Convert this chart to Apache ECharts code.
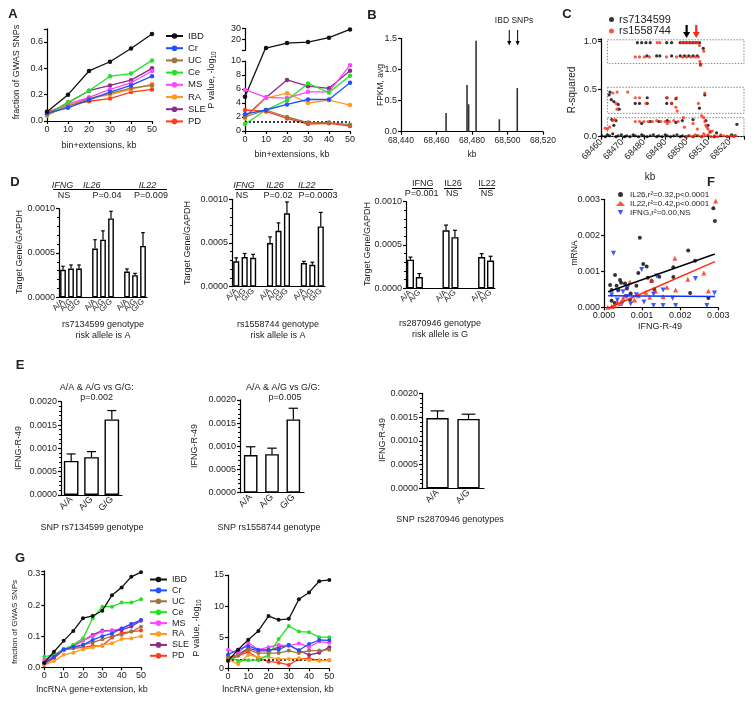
<!DOCTYPE html>
<html><head><meta charset="utf-8">
<script src="https://cdn.jsdelivr.net/npm/echarts@6/dist/echarts.min.js"></script>
<style>html,body{margin:0;padding:0;background:#fff}#c{width:754px;height:704px}</style>
</head><body><div id="c"></div>
<script>
// ================= DATA =================
// Panel A (left): fraction of GWAS SNPs
const aBins = [0, 10, 20, 30, 40, 50];
const diseases = ['IBD','Cr','UC','Ce','MS','RA','SLE','PD'];
const aFracIBD = [0.07,0.20,0.38,0.45,0.55,0.66];
const aFracCr  = [0.06,0.10,0.16,0.22,0.27,0.34];
const aFracUC  = [0.05,0.11,0.17,0.21,0.25,0.27];
const aFracCe  = [0.05,0.14,0.23,0.34,0.36,0.46];
const aFracMS  = [0.06,0.13,0.18,0.24,0.29,0.38];
const aFracRA  = [0.04,0.12,0.17,0.20,0.24,0.28];
const aFracSLE = [0.05,0.14,0.23,0.27,0.31,0.40];
const aFracPD  = [0.07,0.12,0.15,0.17,0.22,0.24];
// Panel A (right): P value, -log10
const aPvalIBD = [4.9, 12, 16.6, 17.5, 21.5, 29];
const aPvalCr  = [2.4, 3.0, 3.8, 4.5, 4.5, 6.9];
const aPvalUC  = [2.0, 3.0, 2.0, 1.2, 1.2, 0.9];
const aPvalCe  = [1.0, 3.0, 4.4, 6.8, 5.5, 7.9];
const aPvalMS  = [5.9, 4.8, 4.7, 5.6, 5.6, 9.4];
const aPvalRA  = [1.8, 4.7, 5.4, 4.0, 4.4, 3.7];
const aPvalSLE = [2.0, 4.8, 7.3, 6.4, 6.1, 8.6];
const aPvalPD  = [3.0, 2.8, 1.8, 1.0, 1.1, 0.7];
const pThreshold = 1.3;
// Panel B: FPKM
const fpkmKb  = [68465.4, 68477.2, 68478.1, 68482.3, 68495.4, 68505.5];
const fpkmAvg = [0.30, 0.75, 0.44, 1.46, 0.20, 0.70];
const ibdSnpKb = [68501, 68505.7];
// Panel C: R-squared
const r2Rs7134599 = [[68477,0.99],[68479,0.99],[68481,0.99],[68483,0.99],[68490.7,0.99],[68493,0.99],[68497,0.99],[68498.5,0.99],[68500,0.99],[68501.5,0.99],[68503,0.99],[68504.5,0.99],[68506,0.99],
 [68481.5,0.85],[68486,0.85],[68487.5,0.85],[68493,0.85],[68497,0.85],[68499,0.85],[68501,0.85],[68503,0.85],[68505,0.85],[68506.5,0.76],[68507.8,0.93],
 [68464.2,0.47],[68463.8,0.44],[68464.8,0.39],[68466,0.37],[68468,0.34],[68468.5,0.29],[68476,0.35],[68478,0.35],[68481.6,0.41],[68481.6,0.35],[68490.7,0.41],[68490.7,0.35],[68493,0.35],[68495,0.40],[68506,0.30],[68508.5,0.44],
 [68465,0.18],[68467,0.17],[68466,0.12],[68479,0.14],[68483,0.16],[68487,0.16],[68491,0.17],[68495,0.15],[68498,0.17],[68503,0.18],[68509,0.17],[68510,0.12],[68511,0.05],[68514,0.04],[68523.5,0.13],
 [68460.5,0.01],[68462,0.0],[68463,0.02],[68464,0.01],[68465.5,0.03],[68467,0.0],[68468,0.01],[68469.5,0.02],[68471,0.0],[68472,0.01],[68473.5,0.0],[68475,0.02],[68476,0.01],[68477.5,0.0],[68479,0.02],[68480,0.01],[68481.5,0.0],[68483,0.01],[68484.5,0.02],[68486,0.0],[68487,0.01],[68488.5,0.0],[68490,0.02],[68491,0.01],[68492.5,0.0],[68494,0.01],[68495.5,0.02],[68497,0.0],[68498,0.01],[68499.5,0.0],[68501,0.01],[68503,0.0],[68505,0.01],[68507,0.0],[68510,0.01],[68513,0.0],[68516,0.01],[68519,0.0],[68521,0.02],[68522.5,0.01]];
const r2Rs1558744 = [[68486.3,0.99],[68487.5,0.99],[68497.5,0.99],[68499,0.99],[68500.5,0.99],[68502,0.99],[68503.5,0.99],[68505,0.99],[68506,0.96],
 [68476,0.84],[68478,0.84],[68480.3,0.84],[68482.6,0.84],[68490.6,0.84],[68495.3,0.84],[68498,0.84],[68500,0.84],[68502,0.84],[68504,0.84],[68505.5,0.84],[68506.2,0.79],[68506.5,0.75],[68508,0.90],
 [68465.5,0.46],[68467.5,0.47],[68472.5,0.47],[68467,0.35],[68467.5,0.29],[68476,0.41],[68478,0.41],[68481,0.35],[68491,0.41],[68493,0.35],[68495.3,0.41],[68495,0.31],[68495.6,0.27],[68505.5,0.35],[68508.5,0.46],
 [68462,0.09],[68463,0.08],[68464,0.10],[68465.5,0.17],[68466.5,0.18],[68476,0.16],[68478,0.16],[68480,0.16],[68482,0.16],[68484,0.16],[68486,0.17],[68488,0.16],[68490,0.16],[68492,0.16],[68494,0.17],[68496,0.16],[68491,0.14],[68498.5,0.20],[68499,0.10],[68503,0.14],[68505,0.08],[68507,0.22],[68508,0.20],[68508.5,0.16],[68509,0.12],[68509.5,0.10],[68510,0.08],[68511,0.05],[68512,0.06],[68508,0.03],
 [68500,0.0],[68501.5,0.01],[68503,0.0],[68504,0.02],[68505.5,0.01],[68507,0.0],[68508.5,0.01],[68510,0.02],[68511.5,0.0],[68513,0.01],[68514.5,0.0],[68516,0.02],[68517.5,0.01],[68519,0.0],[68520.5,0.01],[68522,0.0],[68523,0.01]];
const ldBoxes = [[68463,1.02,68526.8,0.77],[68463,0.52,68526.8,0.246],[68463,0.2,68526.8,0.0]];
const snpArrowKb = [68500, 68504.5];
// Panel D: Target gene / GAPDH
const dCats3 = ['A/A','A/G','G/G','','A/A','A/G','G/G','','A/A','A/G','G/G'];
const d1Mean = [0.00031,0.000325,0.000325,null,0.00055,0.00065,0.00089,null,0.00029,0.00025,0.00058];
const d1Sem  = [0.00004,0.00004,0.00004,null,0.0001,0.0001,0.00008,null,0.00003,0.00002,0.00015];
const d2Mean = [0.00029,0.00034,0.00033,null,0.0005,0.00064,0.00084,null,0.00027,0.00025,0.00069];
const d2Sem  = [0.00004,0.00004,0.00004,null,0.00007,0.00009,0.00013,null,0.00002,0.00003,0.00016];
const dCats2 = ['A/A','A/G','','','A/A','A/G','','','A/A','A/G'];
const d3Mean = [0.00033,0.00013,null,null,0.00067,0.00059,null,null,0.00036,0.00032];
const d3Sem  = [0.00003,0.00004,null,null,0.00006,0.00008,null,null,0.00004,0.00005];
// Panel E: IFNG-R-49
const eCats3 = ['A/A','A/G','G/G'];
const e1Mean = [0.00073,0.00081,0.00162];
const e1Sem  = [0.00015,0.00012,0.00019];
const e2Mean = [0.00081,0.00083,0.00158];
const e2Sem  = [0.00018,0.00013,0.00024];
const eCats2 = ['A/A','A/G'];
const e3Mean = [0.00148,0.00146];
const e3Sem  = [0.00015,0.0001];
// Panel F: mRNA vs IFNG-R-49
const fIL26 = [[0.00094,0.00193],[0.00287,0.00275],[0.00291,0.0024],[0.00221,0.00158],[0.00239,0.00129],[0.00182,0.00111],[0.00182,0.00084],[0.00103,0.0012],[0.00112,0.00113],[0.00029,0.0009],[0.00042,0.00076],[0.00055,0.00066],[0.0002,0.00048],[0.00033,0.0006],[0.00038,0.00048],[0.0006,0.00052],[0.00085,0.0006],[0.0007,0.00038],[0.00115,0.00082],[0.0002,0.00018],[0.00028,0.00012],[0.00068,0.00022],[0.00125,0.00073],[0.00145,0.00085],[0.00226,0.0004],[0.00274,0.00026],[0.00132,0.0005],[0.00045,0.00068],[0.0009,0.00095],[0.00016,0.00062]];
const fIL22 = [[0.00293,0.00295],[0.00186,0.00136],[0.00125,0.00075],[0.00068,0.0007],[0.00165,0.00056],[0.0022,0.00078],[0.00262,0.00095],[0.00274,0.00045],[0.00188,0.00048],[0.00135,0.00045],[0.00042,0.0001],[0.00029,0.00004],[0.00055,0.00032],[0.0009,0.00032],[0.0011,0.00042],[0.0002,0.00002],[0.00035,0.00015],[0.0005,0.00025],[0.0008,0.0002],[0.0012,0.00028],[0.00155,0.0003],[0.0001,0.0]];
const fIFNG = [[0.00025,0.0015],[0.00099,0.00105],[0.00138,0.00087],[0.0024,0.0008],[0.00035,0.00047],[0.0005,0.00043],[0.0006,0.0003],[0.00085,0.00035],[0.0013,0.00037],[0.00155,0.00048],[0.00155,0.00005],[0.00188,0.00005],[0.0027,0.00005],[0.0029,0.0004],[0.00048,0.00011],[0.00035,0.0002],[0.0007,0.0001],[0.00105,0.00015],[0.0013,0.00005],[0.0002,0.00035],[0.00062,0.00055],[0.0018,0.00025]];
const fitIL26 = [[0.00011,0.00043],[0.00291,0.00148]];
const fitIL22 = [[0.00016,0.0],[0.00291,0.00127]];
const fitIFNG = [[0.00011,0.00032],[0.00291,0.0003]];
const fNames = ['IL26,r\u00b2=0.32,p<0.0001','IL22,r\u00b2=0.42,p<0.0001','IFNG,r\u00b2=0.00,NS'];
// Panel G (left): fraction of GWAS SNPs, lncRNA gene+extension
const gBins = [0,5,10,15,20,25,30,35,40,45,50];
const gFracIBD = [0.015,0.05,0.085,0.117,0.158,0.165,0.182,0.232,0.257,0.291,0.306];
const gFracCr  = [0.013,0.034,0.058,0.066,0.072,0.088,0.10,0.109,0.125,0.139,0.152];
const gFracUC  = [0.015,0.035,0.055,0.062,0.072,0.08,0.09,0.10,0.105,0.115,0.13];
const gFracCe  = [0.034,0.04,0.058,0.072,0.093,0.158,0.195,0.195,0.208,0.208,0.219];
const gFracMS  = [0.024,0.04,0.056,0.069,0.086,0.10,0.115,0.118,0.125,0.139,0.152];
const gFracRA  = [0.008,0.02,0.04,0.047,0.058,0.064,0.072,0.077,0.091,0.093,0.10];
const gFracSLE = [0.015,0.032,0.056,0.069,0.086,0.104,0.118,0.118,0.12,0.131,0.15];
const gFracPD  = [0.008,0.029,0.056,0.061,0.064,0.069,0.069,0.096,0.111,0.115,0.118];
// Panel G (right): P value
const gPvalIBD = [1.2,3.0,4.6,6.0,8.4,7.8,7.95,11.1,12.2,14.0,14.2];
const gPvalCr  = [2.2,3.0,3.6,2.95,3.0,3.0,3.75,2.9,3.9,4.55,4.5];
const gPvalUC  = [1.8,2.1,2.95,2.45,2.45,2.45,2.85,2.45,2.85,2.85,3.0];
const gPvalCe  = [1.9,1.2,1.3,1.3,2.15,4.7,6.8,5.9,5.8,5.0,5.0];
const gPvalMS  = [3.0,2.4,4.1,3.0,3.4,3.75,3.6,4.0,3.4,4.3,4.1];
const gPvalRA  = [1.4,0.7,2.15,1.8,1.8,1.5,1.5,1.6,1.3,1.25,1.25];
const gPvalSLE = [1.5,2.2,3.2,2.8,2.8,3.4,3.75,2.85,2.15,2.5,3.4];
const gPvalPD  = [1.2,2.0,2.65,1.6,1.1,0.9,0.55,1.5,1.6,1.25,1.3];

// ================= STYLE =================
const FONT = "'Liberation Sans', Arial, Helvetica, sans-serif";
const TXT = '#222';
const diseaseColors = ['#111111','#2050ff','#a3723e','#25e025','#ff45ff','#ff9b20','#8c2a8c','#ff3b1b'];

const grid = [], xAxis = [], yAxis = [], series = [], legend = [], graphic = [];
const axLine = {show:true, onZero:false, lineStyle:{color:'#000', width:1.2}};
const axTick = {show:true, length:3, lineStyle:{color:'#000', width:1.2}};
const lab = (o) => Object.assign({fontSize:9, color:TXT, fontFamily:FONT, margin:4}, o||{});
function addGrid(l,t,w,h){ grid.push({left:l, top:t, width:w, height:h}); return grid.length-1; }
function addX(o){ xAxis.push(Object.assign({axisLine:axLine, axisTick:axTick, splitLine:{show:false}}, o)); return xAxis.length-1; }
function addY(o){ yAxis.push(Object.assign({type:'value', axisLine:axLine, axisTick:axTick, splitLine:{show:false}}, o)); return yAxis.length-1; }
const fmtStep = (step, dec) => (v) => (Math.abs(v/step - Math.round(v/step)) < 1e-6 ? v.toFixed(dec) : '');
function txt(x,y,text,o){ graphic.push({type:'text', x:x, y:y, rotation:(o&&o.rot)||0, silent:true,
  style:Object.assign({text:text, fill:TXT, fontSize:9, fontFamily:FONT, align:'center', verticalAlign:'middle'}, (o&&o.style)||{})}); }

// ----- A left -----
const gA1 = addGrid(47, 28.8, 105, 92.2);
const xA1 = addX({gridIndex:gA1, type:'value', min:0, max:50, interval:10, axisLabel:lab()});
const yA1 = addY({gridIndex:gA1, min:0, max:0.7, interval:0.2, axisLabel:lab({formatter:fmtStep(0.2,1)})});
const aFrac = [aFracIBD,aFracCr,aFracUC,aFracCe,aFracMS,aFracRA,aFracSLE,aFracPD];
diseases.forEach((d,i)=>series.push({type:'line', name:d, xAxisIndex:xA1, yAxisIndex:yA1, color:diseaseColors[i],
  symbol:'circle', symbolSize:4.5, lineStyle:{width:1.3}, z:10-i, data:aBins.map((b,j)=>[b,aFrac[i][j]])}));
legend.push({data:diseases, orient:'vertical', left:160, top:26, itemWidth:17, itemHeight:7, itemGap:2.2,
  textStyle:{fontSize:9.5, color:TXT, fontFamily:FONT, lineHeight:9}, selectedMode:false});

// ----- A right (broken axis) -----
const gA2 = addGrid(245, 61, 105, 70);
const gA3 = addGrid(245, 28.3, 105, 22);
const xA2 = addX({gridIndex:gA2, type:'value', min:0, max:50, interval:10, axisLabel:lab()});
const yA2 = addY({gridIndex:gA2, min:0, max:10, interval:2, axisLabel:lab()});
const xA3 = addX({gridIndex:gA3, type:'value', min:0, max:50, interval:10, show:false});
const yA3 = addY({gridIndex:gA3, min:10, max:30, interval:10, axisLabel:lab({formatter:(v)=> v===10?'':String(v)})});
const aPval = [aPvalIBD,aPvalCr,aPvalUC,aPvalCe,aPvalMS,aPvalRA,aPvalSLE,aPvalPD];
diseases.forEach((d,i)=>{
  if (i===0) {
    series.push({type:'line', name:d, xAxisIndex:xA2, yAxisIndex:yA2, color:diseaseColors[0], clip:false,
      symbol:'circle', symbolSize:4.5, lineStyle:{width:1.3},
      data:[[aBins[0],aPval[0][0]], {value:[aBins[1],aPval[0][1]], symbol:'none'}]});
    series.push({type:'line', name:d, xAxisIndex:xA3, yAxisIndex:yA3, color:diseaseColors[0],
      symbol:'circle', symbolSize:4.5, lineStyle:{width:1.3},
      data:aBins.slice(1).map((b,j)=>[b,aPval[0][j+1]])});
  } else {
    const s = {type:'line', name:d, xAxisIndex:xA2, yAxisIndex:yA2, color:diseaseColors[i],
      symbol:'circle', symbolSize:4.5, lineStyle:{width:1.3}, z:10-i, data:aBins.map((b,j)=>[b,aPval[i][j]])};
    if (d==='PD') s.markLine = {silent:true, symbol:'none', label:{show:false}, data:[{yAxis:pThreshold}],
      lineStyle:{type:[2,2], color:'#000', width:1.6}};
    series.push(s);
  }
});

// ----- B -----
const gB = addGrid(401, 38.3, 142, 93.4);
const xB = addX({gridIndex:gB, type:'value', min:68440, max:68520, interval:20, axisLabel:lab({fontSize:8.5})});
const yB = addY({gridIndex:gB, min:0, max:1.5, interval:0.5, axisLabel:lab({formatter:(v)=>v.toFixed(1)})});
series.push({type:'bar', name:'FPKM', xAxisIndex:xB, yAxisIndex:yB, barWidth:1.6, itemStyle:{color:'#333'},
  data:fpkmKb.map((k,i)=>[k,fpkmAvg[i]])});

// ----- C -----
const gC = addGrid(601, 38.85, 143.4, 97.85);
const xC = addX({gridIndex:gC, type:'value', min:68460, max:68527, interval:10,
  axisLabel:lab({rotate:45, fontSize:9, formatter:fmtStep(10,0)})});
const yC = addY({gridIndex:gC, min:0, max:1.03, interval:0.5, axisLabel:lab({fontSize:9.5, formatter:fmtStep(0.5,1)})});
series.push({type:'scatter', name:'rs7134599', xAxisIndex:xC, yAxisIndex:yC, color:'#000', symbolSize:3.2, data:r2Rs7134599,
  markArea:{silent:true, itemStyle:{color:'rgba(0,0,0,0)', borderColor:'#888', borderWidth:1, borderType:[1.5,1.5]},
    data:ldBoxes.map(b=>[{coord:[b[0],b[1]]},{coord:[b[2],b[3]]}])}});
series.push({type:'scatter', name:'rs1558744', xAxisIndex:xC, yAxisIndex:yC, color:'#ff2a10', symbolSize:3.2, data:r2Rs1558744});
legend.push({data:['rs7134599','rs1558744'], orient:'vertical', left:604, top:9, itemWidth:5, itemHeight:5, itemGap:0.5,
  icon:'circle', textStyle:{fontSize:11, color:TXT, fontFamily:FONT, lineHeight:11}, selectedMode:false});

// ----- F -----
const gF = addGrid(604, 199.3, 114.3, 108);
const xF = addX({gridIndex:gF, type:'value', min:0, max:0.003, interval:0.001, axisLabel:lab({formatter:(v)=>v.toFixed(3)})});
const yF = addY({gridIndex:gF, min:0, max:0.003, interval:0.001, axisLabel:lab({formatter:(v)=>v.toFixed(3)})});
const fCols = ['#000','#ff2a10','#1030ff'];
const fSyms = ['circle','triangle','path://M0,0L10,0L5,9Z'];
[fIL26,fIL22,fIFNG].forEach((d,i)=>series.push({type:'scatter', name:fNames[i], xAxisIndex:xF, yAxisIndex:yF, color:fCols[i],
  symbol:fSyms[i], symbolSize:i===0?4:5, data:d}));
[fitIL26,fitIL22,fitIFNG].forEach((d,i)=>series.push({type:'line', name:fNames[i]+' fit', xAxisIndex:xF, yAxisIndex:yF, color:fCols[i],
  symbol:'none', lineStyle:{width:1.5}, data:d}));
legend.push({data:fNames, orient:'vertical', left:611, top:185, itemWidth:9, itemHeight:5, itemGap:0,
  textStyle:{fontSize:8, color:TXT, fontFamily:FONT, lineHeight:9}, selectedMode:false});

// ----- bar + error helper -----
function errRender(params, api){
  const x = api.value(0), m = api.value(1), e = api.value(2);
  const base = api.coord([x, m]), top = api.coord([x, m+e]);
  const half = api.size([1,0])[0]*0.22;
  const st = {stroke:'#000', lineWidth:1.2};
  return {type:'group', children:[
    {type:'line', shape:{x1:base[0], y1:base[1], x2:top[0], y2:top[1]}, style:st},
    {type:'line', shape:{x1:top[0]-half, y1:top[1], x2:top[0]+half, y2:top[1]}, style:st}]};
}
function barPanel(rect, cats, mean, sem, ymax, yint, dec, labOpt, barW){
  const g = addGrid(rect[0],rect[1],rect[2],rect[3]);
  const xi = addX({gridIndex:g, type:'category', data:cats, axisTick:{show:false},
    axisLabel:lab(Object.assign({interval:0, rotate:45, margin:3}, labOpt||{}))});
  const yi = addY({gridIndex:g, min:0, max:ymax, interval:yint,
    minorTick:{show:true, splitNumber:5, length:2, lineStyle:{color:'#000', width:1}},
    axisLabel:lab({formatter:(v)=>v.toFixed(dec)})});
  series.push({type:'bar', xAxisIndex:xi, yAxisIndex:yi, barWidth:barW, data:mean,
    itemStyle:{color:'#fff', borderColor:'#000', borderWidth:1.4}});
  const ed = [];
  mean.forEach((m,i)=>{ if(m!=null) ed.push([i,m,sem[i]]); });
  series.push({type:'custom', xAxisIndex:xi, yAxisIndex:yi, renderItem:errRender, encode:{x:0,y:1}, data:ed, z:5});
  return g;
}
barPanel([59,208.7,88,88.6], dCats3, d1Mean, d1Sem, 0.001, 0.0005, 4, {fontSize:8}, '72%');
barPanel([232,199.3,93,87.4], dCats3, d2Mean, d2Sem, 0.001, 0.0005, 4, {fontSize:8}, '72%');
barPanel([406,201.7,89,86.6], dCats2, d3Mean, d3Sem, 0.001, 0.0005, 4, {fontSize:8}, '80%');
barPanel([61,401.7,61,93.3], eCats3, e1Mean, e1Sem, 0.002, 0.0005, 4, {fontSize:9}, '72%');
barPanel([240,399.9,64,92.8], eCats3, e2Mean, e2Sem, 0.002, 0.0005, 4, {fontSize:9}, '64%');
barPanel([422,393.3,62,95], eCats2, e3Mean, e3Sem, 0.002, 0.0005, 4, {fontSize:9}, '72%');

// ----- G left -----
const gG1 = addGrid(44.3, 570.9, 96.7, 96.4);
const xG1 = addX({gridIndex:gG1, type:'value', min:0, max:50, interval:10, axisLabel:lab()});
const yG1 = addY({gridIndex:gG1, min:0, max:0.31, interval:0.1, axisLabel:lab({formatter:fmtStep(0.1,1)})});
const gFrac = [gFracIBD,gFracCr,gFracUC,gFracCe,gFracMS,gFracRA,gFracSLE,gFracPD];
diseases.forEach((d,i)=>series.push({type:'line', name:d, xAxisIndex:xG1, yAxisIndex:yG1, color:diseaseColors[i],
  symbol:'circle', symbolSize:4, lineStyle:{width:1.3}, z:10-i, data:gBins.map((b,j)=>[b,gFrac[i][j]])}));
legend.push({data:diseases, orient:'vertical', left:144, top:570, itemWidth:17, itemHeight:7, itemGap:1.9,
  textStyle:{fontSize:9, color:TXT, fontFamily:FONT, lineHeight:9}, selectedMode:false});

// ----- G right -----
const gG2 = addGrid(228, 575, 101.3, 93.3);
const xG2 = addX({gridIndex:gG2, type:'value', min:0, max:50, interval:10, axisLabel:lab()});
const yG2 = addY({gridIndex:gG2, min:0, max:15, interval:5, axisLabel:lab()});
const gPval = [gPvalIBD,gPvalCr,gPvalUC,gPvalCe,gPvalMS,gPvalRA,gPvalSLE,gPvalPD];
diseases.forEach((d,i)=>{
  const s = {type:'line', name:d, xAxisIndex:xG2, yAxisIndex:yG2, color:diseaseColors[i],
    symbol:'circle', symbolSize:4, lineStyle:{width:1.3}, z:10-i, data:gBins.map((b,j)=>[b,gPval[i][j]])};
  if (d==='PD') s.markLine = {silent:true, symbol:'none', label:{show:false}, data:[{yAxis:pThreshold}],
    lineStyle:{type:[2,2], color:'#000', width:1.6}};
  series.push(s);
});

// ----- texts -----
const bold = {fontWeight:'bold', fontSize:13};
txt(13,14,'A',{style:bold}); txt(372,15,'B',{style:bold}); txt(567,14,'C',{style:bold});
txt(15,182,'D',{style:bold}); txt(20,365,'E',{style:bold}); txt(711,182,'F',{style:bold}); txt(20,558,'G',{style:bold});
const subRich = {sub:{fontSize:6.5, fontFamily:FONT, fill:TXT, padding:[5,0,0,0]}};
txt(17,72,'fraction of GWAS SNPs',{rot:Math.PI/2, style:{fontSize:9}});
txt(99,146,'bin+extensions, kb',{style:{fontSize:9}});
txt(212,80,'P value, -log{sub|10}',{rot:Math.PI/2, style:{fontSize:9, rich:subRich}});
txt(292,155,'bin+extensions, kb',{style:{fontSize:9}});
txt(381,85,'FPKM, avg',{rot:Math.PI/2, style:{fontSize:8.5}});
txt(472,155,'kb',{style:{fontSize:8.5}});
txt(514,21,'IBD SNPs',{style:{fontSize:8.5}});
txt(572,90,'R-squared',{rot:Math.PI/2, style:{fontSize:10}});
txt(650,177,'kb',{style:{fontSize:10}});
txt(575,253,'mRNA',{rot:Math.PI/2, style:{fontSize:8.5}});
txt(660,327,'IFNG-R-49',{style:{fontSize:9}});
// D headers
const ital = {fontStyle:'italic', fontSize:9};
txt(62.5,185,'IFNG',{style:ital}); txt(91.7,185,'IL26',{style:ital}); txt(147.5,185,'IL22',{style:ital});
txt(64,196,'NS'); txt(107,196,'P=0.04'); txt(151,196,'P=0.009');
txt(244,185,'IFNG',{style:ital}); txt(275,185,'IL26',{style:ital}); txt(306.7,185,'IL22',{style:ital});
txt(242,196,'NS'); txt(278,196,'P=0.02'); txt(318,196,'P=0.0003');
txt(422.7,184,'IFNG'); txt(453,184,'IL26'); txt(487,184,'IL22');
txt(421.7,194,'P=0.001'); txt(452.3,194,'NS'); txt(487,194,'NS');
[[53,167,189.5],[235,333,189.5],[412,433,188.5],[444,462,188.5],[479,495,188.5]].forEach(l=>graphic.push({type:'line', silent:true,
  shape:{x1:l[0],y1:l[2],x2:l[1],y2:l[2]}, style:{stroke:'#000', lineWidth:1}}));
txt(20,252,'Target Gene/GAPDH',{rot:Math.PI/2, style:{fontSize:9}});
txt(188,243,'Target Gene/GAPDH',{rot:Math.PI/2, style:{fontSize:9}});
txt(368,244,'Target Gene/GAPDH',{rot:Math.PI/2, style:{fontSize:9}});
txt(103,325,'rs7134599 genotype'); txt(103,336,'risk allele is A');
txt(278,325,'rs1558744 genotype'); txt(278,336,'risk allele is A');
txt(440,324,'rs2870946 genotype'); txt(440,335,'risk allele is G');
// E
txt(96.7,388,'A/A & A/G vs G/G:'); txt(96.7,398,'p=0.002');
txt(283,388,'A/A & A/G vs G/G:'); txt(285,398,'p=0.005');
txt(19,448,'IFNG-R-49',{rot:Math.PI/2}); txt(195,446,'IFNG-R-49',{rot:Math.PI/2}); txt(383,440,'IFNG-R-49',{rot:Math.PI/2});
txt(92,528,'SNP rs7134599 genotype'); txt(269,528,'SNP rs1558744 genotype'); txt(450,520,'SNP rs2870946 genotypes');
// G
txt(15,622,'fraction of GWAS SNPs',{rot:Math.PI/2, style:{fontSize:8}});
txt(92,690,'lncRNA gene+extension, kb');
txt(197,628,'P value, -log{sub|10}',{rot:Math.PI/2, style:{fontSize:9, rich:subRich}});
txt(278,690,'lncRNA gene+extension, kb');

const chart = echarts.init(document.getElementById('c'), null, {renderer:'canvas'});
chart.setOption({animation:false, backgroundColor:'#fff', textStyle:{fontFamily:FONT},
  grid, xAxis, yAxis, series, legend, graphic});

// arrows (positions from the axes)
const extra = [];
ibdSnpKb.forEach(k=>{
  const px = chart.convertToPixel({xAxisIndex:xB, yAxisIndex:yB}, [k, 0])[0];
  extra.push({type:'line', silent:true, shape:{x1:px,y1:30,x2:px,y2:42}, style:{stroke:'#000', lineWidth:1}});
  extra.push({type:'polygon', silent:true, shape:{points:[[px-2,41],[px+2,41],[px,45.5]]}, style:{fill:'#000'}});
});
const arrowCols = ['#000','#ff2a10'];
snpArrowKb.forEach((k,i)=>{
  const px = chart.convertToPixel({xAxisIndex:xC, yAxisIndex:yC}, [k, 0])[0];
  extra.push({type:'line', silent:true, shape:{x1:px,y1:25,x2:px,y2:33}, style:{stroke:arrowCols[i], lineWidth:2.2}});
  extra.push({type:'polygon', silent:true, shape:{points:[[px-3.5,32],[px+3.5,32],[px,38]]}, style:{fill:arrowCols[i]}});
});
chart.setOption({graphic: graphic.concat(extra)});
</script></body></html>
